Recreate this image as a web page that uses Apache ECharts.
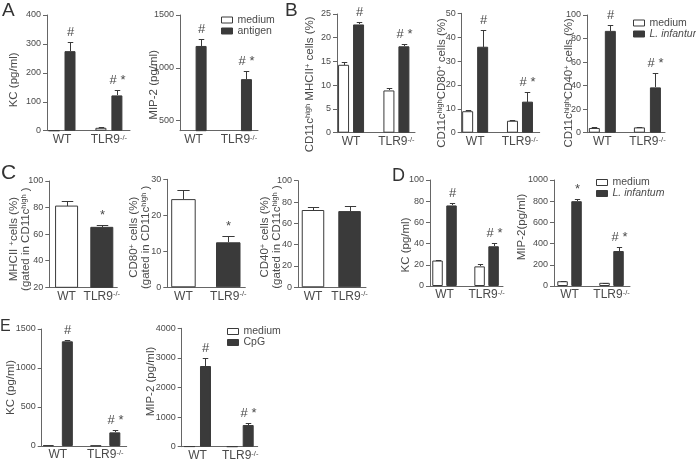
<!DOCTYPE html>
<html><head><meta charset="utf-8">
<script src="https://cdn.jsdelivr.net/npm/echarts@6/dist/echarts.min.js"></script>
<style>html,body{margin:0;padding:0;background:#fff}#c{width:696px;height:459px}</style>
</head><body><div id="c"></div>
<script>
// ---------- DATA ----------
const groups = ['WT', 'TLR9-/-'];

// Panel A
const aKCTicks = [0, 100, 200, 300, 400];
const aKCMedium = [0, 10];
const aKCMediumErr = [0, 3];
const aKCAntigen = [275, 122];
const aKCAntigenErr = [30, 20];
const aKCMarks = ['#', '# *'];

const aMIPTicks = [500, 1000, 1500];
const aMIPMedium = [300, 280];
const aMIPMediumErr = [20, 20];
const aMIPAntigen = [1207, 893];
const aMIPAntigenErr = [70, 73];
const aMIPMarks = ['#', '# *'];

// Panel B
const bMHCTicks = [0, 5, 10, 15, 20, 25];
const bMHCMedium = [14.3, 8.9];
const bMHCMediumErr = [0.5, 0.45];
const bMHCInf = [22.8, 18.2];
const bMHCInfErr = [0.6, 0.4];
const bMHCMarks = ['#', '# *'];

const bCD80Ticks = [0, 10, 20, 30, 40, 50];
const bCD80Medium = [9, 5];
const bCD80MediumErr = [0.6, 0.2];
const bCD80Inf = [36, 13];
const bCD80InfErr = [7.2, 4.2];
const bCD80Marks = ['#', '# *'];

const bCD40Ticks = [0, 20, 40, 60, 80, 100];
const bCD40Medium = [4, 4.5];
const bCD40MediumErr = [0.5, 0.6];
const bCD40Inf = [86.5, 38.5];
const bCD40InfErr = [5, 12];
const bCD40Marks = ['#', '# *'];

// Panel C
const cMHCTicks = [20, 40, 60, 80, 100];
const cMHC = [81.5, 65.5];
const cMHCErr = [3.5, 1.5];
const cMHCMarks = ['', '*'];

const cCD80Ticks = [0, 10, 20, 30];
const cCD80 = [24.5, 12.5];
const cCD80Err = [2.5, 1.8];
const cCD80Marks = ['', '*'];

const cCD40Ticks = [0, 20, 40, 60, 80, 100];
const cCD40 = [72.5, 71.5];
const cCD40Err = [2.5, 4.5];
const cCD40Marks = ['', ''];

// Panel D
const dKCTicks = [0, 20, 40, 60, 80, 100];
const dKCMedium = [24, 18.5];
const dKCMediumErr = [1, 2.5];
const dKCInf = [76, 37.5];
const dKCInfErr = [2.5, 3.5];
const dKCMarks = ['#', '# *'];

const dMIPTicks = [0, 200, 400, 600, 800, 1000];
const dMIPMedium = [45, 30];
const dMIPMediumErr = [5, 3];
const dMIPInf = [800, 330];
const dMIPInfErr = [22, 35];
const dMIPMarks = ['*', '# *'];

// Panel E
const eKCTicks = [0, 500, 1000, 1500];
const eKCMedium = [10, 5];
const eKCMediumErr = [0, 0];
const eKCCpG = [1342, 175];
const eKCCpGErr = [21, 29];
const eKCMarks = ['#', '# *'];

const eMIPTicks = [0, 1000, 2000, 3000, 4000];
const eMIPMedium = [10, 5];
const eMIPMediumErr = [0, 0];
const eMIPCpG = [2726, 732];
const eMIPCpGErr = [280, 70];
const eMIPMarks = ['#', '# *'];

// ---------- STYLE / LAYOUT ----------
const FONT = "'Liberation Sans', Arial, sans-serif";
const DARK = '#3a3a3a';
const AXIS = '#666';
const TXT = '#4a4a4a';
const SUP = { sup: { fontSize: 7.5, verticalAlign: 'top', fontFamily: FONT, color: TXT } };
const supify = s => s.replace(/-\/-/, '{sup|-/-}');

// sh: shift of the axis title along the axis (px, + = down)
const panels = [
  { g: [47, 15, 83, 115.7], x: [-0.32, 1.45], ticks: aKCTicks, name: 'KC (pg/ml)', gap0: 27, sh: 7, barW: 11, gap: 5,
    series: [{ name: 'medium', v: aKCMedium, e: aKCMediumErr, kind: 'open' }, { name: 'antigen', v: aKCAntigen, e: aKCAntigenErr, kind: 'solid', marks: aKCMarks }] },
  { g: [180, 15, 78, 115.7], x: [-0.30, 1.42], ticks: aMIPTicks, yMin: 405, name: 'MIP-2 (pg/ml)', gap0: 20, sh: 12, barW: 11, gap: 4,
    series: [{ name: 'medium', v: aMIPMedium, e: aMIPMediumErr, kind: 'open' }, { name: 'antigen', v: aMIPAntigen, e: aMIPAntigenErr, kind: 'solid', marks: aMIPMarks }] },
  { g: [337, 14, 78, 118.7], x: [-0.31, 1.41], ticks: bMHCTicks, name: 'CD11c{sup|high} MHCII{sup|+} cells (%)', gap0: 21, sh: 11, barW: 11, gap: 4,
    series: [{ name: 'medium', v: bMHCMedium, e: bMHCMediumErr, kind: 'open' }, { name: 'L. infantum', v: bMHCInf, e: bMHCInfErr, kind: 'solid', marks: bMHCMarks }] },
  { g: [461.7, 13.3, 78, 119.4], x: [-0.30, 1.44], ticks: bCD80Ticks, name: 'CD11c{sup|high}CD80{sup|+} cells (%)', gap0: 14, sh: 10, barW: 11, gap: 4,
    series: [{ name: 'medium', v: bCD80Medium, e: bCD80MediumErr, kind: 'open' }, { name: 'L. infantum', v: bCD80Inf, e: bCD80InfErr, kind: 'solid', marks: bCD80Marks }] },
  { g: [587, 15, 78, 117.7], x: [-0.34, 1.39], ticks: bCD40Ticks, name: 'CD11c{sup|high}CD40{sup|+} cells (%)', gap0: 12, sh: 9, barW: 11, gap: 5,
    series: [{ name: 'medium', v: bCD40Medium, e: bCD40MediumErr, kind: 'open' }, { name: 'L. infantum', v: bCD40Inf, e: bCD40InfErr, kind: 'solid', marks: bCD40Marks }] },
  { g: [49.3, 181, 68, 106.3], x: [-0.49, 1.44], ticks: cMHCTicks, name: 'MHCII {sup|+}cells (%)\n(gated in CD11c{sup|high} )', gap0: 17, sh: 5, barW: 23, gap: 0,
    series: [{ name: 'C1', v: cMHC, e: cMHCErr, kind: ['open', 'solid'], marks: cMHCMarks }] },
  { g: [167.3, 179.3, 78, 108], x: [-0.36, 1.38], ticks: cCD80Ticks, name: 'CD80{sup|+} cells (%)\n(gated in CD11c{sup|high} )', gap0: 15, sh: 4, barW: 24.5, gap: 0,
    series: [{ name: 'C2', v: cCD80, e: cCD80Err, kind: ['open', 'solid'], marks: cCD80Marks }] },
  { g: [298, 180.7, 68, 106.6], x: [-0.41, 1.45], ticks: cCD40Ticks, name: 'CD40{sup|+} cells (%)\n(gated in CD11c{sup|high} )', gap0: 15, sh: 3, barW: 22.5, gap: 0,
    series: [{ name: 'C3', v: cCD40, e: cCD40Err, kind: ['open', 'solid'], marks: cCD40Marks }] },
  { g: [430, 180, 73, 106], x: [-0.345, 1.39], ticks: dKCTicks, name: 'KC (pg/ml)', gap0: 18, sh: 12, barW: 10.5, gap: 3.5,
    series: [{ name: 'medium', v: dKCMedium, e: dKCMediumErr, kind: 'open' }, { name: 'L. infantum', v: dKCInf, e: dKCInfErr, kind: 'solid', marks: dKCMarks }] },
  { g: [554, 180, 76, 106], x: [-0.37, 1.44], ticks: dMIPTicks, name: 'MIP-2(pg/ml)', gap0: 26, sh: -6, barW: 10.5, gap: 3.5,
    series: [{ name: 'medium', v: dMIPMedium, e: dMIPMediumErr, kind: 'open' }, { name: 'L. infantum', v: dMIPInf, e: dMIPInfErr, kind: 'solid', marks: dMIPMarks }] },
  { g: [41.7, 329, 85, 117], x: [-0.34, 1.45], ticks: eKCTicks, name: 'KC (pg/ml)', gap0: 25, sh: 0, barW: 11, gap: 8,
    series: [{ name: 'medium', v: eKCMedium, e: eKCMediumErr, kind: 'open' }, { name: 'CpG', v: eKCCpG, e: eKCCpGErr, kind: 'solid', marks: eKCMarks }] },
  { g: [181.7, 328.3, 76, 118.4], x: [-0.37, 1.41], ticks: eMIPTicks, name: 'MIP-2 (pg/ml)', gap0: 25, sh: -6, barW: 11, gap: 5,
    series: [{ name: 'medium', v: eMIPMedium, e: eMIPMediumErr, kind: 'open' }, { name: 'CpG', v: eMIPCpG, e: eMIPCpGErr, kind: 'solid', marks: eMIPMarks }] }
];

const legends = [
  { left: 221, top: 14.5, items: ['medium', 'antigen'] },
  { left: 633, top: 17.5, items: ['medium', 'L. infantum'] },
  { left: 596, top: 177, items: ['medium', 'L. infantum'] },
  { left: 227, top: 326, items: ['medium', 'CpG'] }
];

const letters = [
  { t: 'A', x: 2, y: 1, s: 19 }, { t: 'B', x: 285, y: 1, s: 19 }, { t: 'C', x: 1, y: 163, s: 21 },
  { t: 'D', x: 392, y: 167, s: 18 }, { t: 'E', x: 0, y: 319, s: 16 }
];

const styleOf = k => k === 'open'
  ? { color: '#fff', borderColor: DARK, borderWidth: 1 }
  : { color: DARK, borderColor: DARK, borderWidth: 1 };

// ---------- BUILD ----------
const grid = [], xAxis = [], yAxis = [], series = [];
panels.forEach((p, i) => {
  grid.push({ left: p.g[0], top: p.g[1], width: p.g[2], height: p.g[3], outerBoundsMode: 'none', containLabel: false });
  xAxis.push({
    type: 'value', gridIndex: i, min: p.x[0], max: p.x[1],
    axisLine: { show: true, onZero: false, lineStyle: { color: AXIS, width: 1 } },
    axisTick: { show: false }, splitLine: { show: false }, minorTick: { show: false }, minorSplitLine: { show: false },
    axisLabel: { customValues: [0, 1], formatter: v => supify(groups[Math.round(v)]), fontSize: 12, color: TXT, fontFamily: FONT, margin: 3, rich: SUP }
  });
  const ymin = p.yMin != null ? p.yMin : p.ticks[0];
  const pad = p.sh >= 0 ? [0, 2 * p.sh, 0, 0] : [0, 0, 0, -2 * p.sh];
  yAxis.push({
    type: 'value', gridIndex: i, min: ymin, max: p.ticks[p.ticks.length - 1],
    axisLine: { show: true, onZero: false, lineStyle: { color: AXIS, width: 1 } },
    axisTick: { show: true, length: 4, customValues: p.ticks, lineStyle: { color: AXIS } },
    splitLine: { show: false }, minorTick: { show: false }, minorSplitLine: { show: false },
    axisLabel: { customValues: p.ticks, formatter: v => String(v), fontSize: 9, color: TXT, fontFamily: FONT, margin: 6 },
    name: p.name, nameLocation: 'middle', nameGap: p.gap0, nameMoveOverlap: false,
    nameTextStyle: { fontSize: 11.5, color: TXT, fontFamily: FONT, lineHeight: 12, padding: pad, rich: { sup: { fontSize: 7.5, verticalAlign: 'top', color: TXT, fontFamily: FONT } } }
  });
  const n = p.series.length;
  p.series.forEach((s, si) => {
    const data = s.v.map((v, k) => {
      const kind = Array.isArray(s.kind) ? s.kind[k] : s.kind;
      return { value: [k, v], itemStyle: styleOf(kind) };
    });
    series.push({
      type: 'bar', name: s.name, xAxisIndex: i, yAxisIndex: i, data,
      barWidth: p.barW, barGap: (p.gap / p.barW * 100) + '%', clip: true,
      itemStyle: styleOf(Array.isArray(s.kind) ? 'solid' : s.kind), animation: false, silent: true
    });
    const sign = n === 1 ? 0 : (si === 0 ? -1 : 1);
    const off = (p.barW + p.gap) / 2;
    const capW = Math.max(5, p.barW * 0.5);
    const marks = s.marks || [];
    series.push({
      type: 'custom', xAxisIndex: i, yAxisIndex: i, clip: false, silent: true, animation: false, z: 5,
      dimensions: ['x', 'y', 'top'],
      encode: { x: 0, y: 1 },
      data: s.v.map((v, k) => [k, v, v + s.e[k]]),
      renderItem: (params, api) => {
        const x = api.value(0), v = api.value(1), top = api.value(2);
        const ch = [];
        if (v < ymin) return { type: 'group', children: ch };
        const b = api.coord([x, v]);
        const t = api.coord([x, top]);
        const cx = Math.round(b[0] + sign * off) + 0.5;
        const ty = Math.round(t[1]) + 0.5;
        if (top > v) {
          ch.push({ type: 'line', shape: { x1: cx, y1: Math.round(b[1]), x2: cx, y2: ty }, style: { stroke: DARK, lineWidth: 1 } });
          ch.push({ type: 'line', shape: { x1: cx - capW / 2, y1: ty, x2: cx + capW / 2, y2: ty }, style: { stroke: DARK, lineWidth: 1 } });
        }
        const m = marks[params.dataIndex];
        if (m) {
          ch.push({ type: 'text', x: cx, y: ty - 4, style: { text: m, fill: TXT, font: '13px ' + FONT, align: 'center', verticalAlign: 'bottom' } });
        }
        return { type: 'group', children: ch };
      }
    });
  });
});

const legend = legends.map(l => ({
  left: l.left, top: l.top, orient: 'vertical', itemGap: 0, padding: 0, selectedMode: false,
  itemWidth: 11, itemHeight: 6, icon: 'rect',
  data: l.items.map(nm => ({ name: nm, itemStyle: styleOf(nm === 'medium' ? 'open' : 'solid') })),
  formatter: nm => nm === 'L. infantum' ? '{it|L. infantum}' : nm,
  textStyle: { fontSize: 10.5, color: TXT, fontFamily: FONT, lineHeight: 11, rich: { it: { fontStyle: 'italic', fontSize: 10.5, color: TXT, fontFamily: FONT } } }
}));

const graphic = letters.map(L => ({
  type: 'text', left: L.x, top: L.y, style: { text: L.t, fill: '#333', font: L.s + 'px ' + FONT }
}));

const chart = echarts.init(document.getElementById('c'), null, { renderer: 'canvas' });
chart.setOption({ backgroundColor: '#fff', animation: false, grid, xAxis, yAxis, series, legend, graphic });
</script></body></html>
